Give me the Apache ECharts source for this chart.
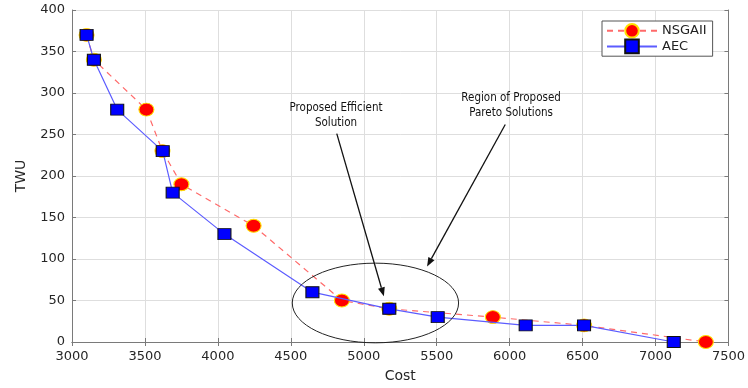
<!DOCTYPE html>
<html><head><meta charset="utf-8">
<script src="https://cdn.jsdelivr.net/npm/echarts@6/dist/echarts.min.js"></script>
<style>html,body{margin:0;padding:0;background:#fff}#c{width:748px;height:388px}</style>
</head><body><div id="c"></div>
<script>
const nsgaCost = [3100, 3150, 3510, 3620, 3750, 4245, 4850, 5175, 5885, 6510, 7345];
const nsgaTWU  = [370, 340, 280, 230, 190, 140, 50, 40, 30, 20, 0];
const aecCost  = [3100, 3150, 3310, 3622, 3690, 4045, 4648, 5175, 5507, 6110, 6510, 7125];
const aecTWU   = [370, 340, 280, 230, 180, 130, 60, 40, 30, 20, 20, 0];
const xTicks = [3000, 7500, 500];
const yTicks = [0, 400, 50];
// annotations in data coordinates
const ellipseC = [5080, 47], ellipseR = [570, 48];
const arrow1 = [[4815, 251], [5138, 55]];
const arrow2 = [[5970, 262], [5434, 91]];
const text1 = {pos: [4810, 273], txt: 'Proposed Efficient\nSolution'};
const text2 = {pos: [6010, 285], txt: 'Region of Proposed\nPareto Solutions'};

const chart = echarts.init(document.getElementById('c'));
const axCol = '#7a7a7a', lblCol = '#262626';
const pair = (a, b) => a.map((v, i) => [v, b[i]]);
const mkX = (pos, show) => ({
  type: 'value', position: pos, min: xTicks[0], max: xTicks[1], interval: xTicks[2],
  axisLine: {show: true, lineStyle: {color: axCol}},
  axisTick: {show: true, inside: true, length: 4, lineStyle: {color: axCol}},
  axisLabel: {show: show, color: lblCol, fontFamily: 'DejaVu Sans', fontSize: 13, margin: 8, formatter: v => String(v)},
  splitLine: {show: show, lineStyle: {color: '#dedede'}},
  name: show ? 'Cost' : '', nameLocation: 'middle', nameGap: 27,
  nameTextStyle: {color: lblCol, fontFamily: 'DejaVu Sans', fontSize: 14}
});
const mkY = (pos, show) => ({
  type: 'value', position: pos, min: yTicks[0], max: yTicks[1], interval: yTicks[2],
  axisLine: {show: true, lineStyle: {color: axCol}},
  axisTick: {show: true, inside: true, length: 4, lineStyle: {color: axCol}},
  axisLabel: {show: show, color: lblCol, fontFamily: 'DejaVu Sans', fontSize: 13, margin: 7, formatter: v => String(v)},
  splitLine: {show: show, lineStyle: {color: '#dedede'}},
  name: show ? 'TWU' : '', nameLocation: 'middle', nameGap: 44,
  nameTextStyle: {color: lblCol, fontFamily: 'DejaVu Sans', fontSize: 14}
});
chart.setOption({
  animation: false,
  grid: {left: 72, right: 17, top: 10, bottom: 45},
  xAxis: [mkX('bottom', true), mkX('top', false)],
  yAxis: [mkY('left', true), mkY('right', false)],
  legend: {
    left: 602, top: 21, orient: 'vertical', itemWidth: 50, itemHeight: 17, itemGap: 0,
    padding: [2, 6, 2, 4], borderColor: '#555', borderWidth: 1, backgroundColor: '#fff', borderRadius: 0,
    textStyle: {color: '#222', fontFamily: 'DejaVu Sans', fontSize: 13},
    data: ['NSGAII', 'AEC']
  },
  series: [
    {name: 'NSGAII', type: 'line', data: pair(nsgaCost, nsgaTWU), symbol: 'circle', symbolSize: [15, 13],
     itemStyle: {color: '#ff0000', borderColor: '#ffe000', borderWidth: 1},
     lineStyle: {color: '#ff6a6a', width: 1.2, type: [6, 5]}, z: 2},
    {name: 'AEC', type: 'line', data: pair(aecCost, aecTWU), symbol: 'rect', symbolSize: [13, 11],
     itemStyle: {color: '#0000ff', borderColor: '#111', borderWidth: 1},
     lineStyle: {color: '#5c5cff', width: 1.2}, z: 3}
  ]
});
function px(p) { return chart.convertToPixel({xAxisIndex: 0, yAxisIndex: 0}, p); }
function arrowEls(a) {
  const p0 = px(a[0]), p1 = px(a[1]);
  const dx = p1[0] - p0[0], dy = p1[1] - p0[1], L = Math.hypot(dx, dy);
  const ux = dx / L, uy = dy / L, hl = 9, hw = 3.5;
  const bx = p1[0] - ux * hl, by = p1[1] - uy * hl;
  return [
    {type: 'line', shape: {x1: p0[0], y1: p0[1], x2: bx, y2: by}, style: {stroke: '#111', lineWidth: 1.3}, z: 50},
    {type: 'polygon', shape: {points: [[p1[0], p1[1]], [bx - uy * hw, by + ux * hw], [bx + uy * hw, by - ux * hw]]},
     style: {fill: '#111'}, z: 50}
  ];
}
const c = px(ellipseC);
const e2 = px([ellipseC[0] + ellipseR[0], ellipseC[1] + ellipseR[1]]);
const t1 = px(text1.pos), t2 = px(text2.pos);
const tstyle = (p, t) => ({type: 'text', x: p[0], y: p[1], z: 50, style: {text: t, align: 'center', verticalAlign: 'middle',
  fill: '#111', font: '11.5px "Liberation Sans Narrow", "DejaVu Sans Condensed", sans-serif', lineHeight: 15}});
chart.setOption({graphic: [
  {type: 'ellipse', shape: {cx: c[0], cy: c[1], rx: e2[0] - c[0], ry: c[1] - e2[1]},
   style: {fill: 'none', stroke: '#222', lineWidth: 1}, z: 50},
  ...arrowEls(arrow1), ...arrowEls(arrow2),
  tstyle(t1, text1.txt), tstyle(t2, text2.txt)
]});
</script></body></html>
